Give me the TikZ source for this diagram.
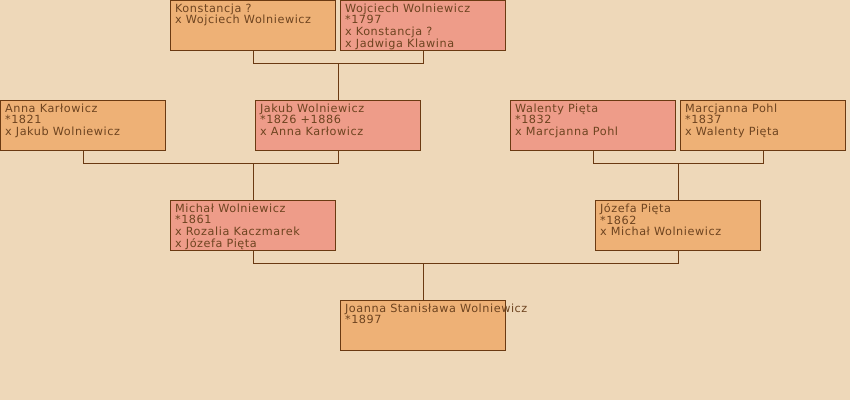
\documentclass[tikz,border=0pt]{standalone}
\usepackage{fontspec}
\setmainfont{DejaVu Sans}
\usetikzlibrary{positioning}
\definecolor{paper}{HTML}{EED8B9}
\definecolor{male}{HTML}{EE9C89}
\definecolor{female}{HTML}{EEB176}
\definecolor{frame}{HTML}{6B3A12}
\definecolor{ink}{HTML}{6E4420}
\newcommand{\cardfont}{\fontsize{8}{8.2}\selectfont\addfontfeature{LetterSpace=5}}

\begin{document}
\begin{tikzpicture}[
  x=0.025cm, y=-0.025cm,
  person/.style={rectangle, draw=frame, line width=0.7pt, anchor=north west,
                 minimum width=4.125cm, minimum height=1.25cm, inner sep=0pt,
                 label={[anchor=north west, align=left, inner sep=0pt, text=ink,
                         font=\cardfont, xshift=0.12cm, yshift=-0.09cm]north west:#1}},
  man/.style={person={#1}, fill=male},
  woman/.style={person={#1}, fill=female},
  link/.style={draw=frame, line width=0.7pt}]
  \useasboundingbox[fill=paper] (0,0) rectangle (850,400);
  % grandparents of Michal
  \node[woman={Konstancja ?\\x Wojciech Wolniewicz}] (kon) at (170,0) {};
  \node[man={Wojciech Wolniewicz\\*1797\\x Konstancja ?\\x Jadwiga Klawina}] (woj) at (340,0) {};
  % parents
  \node[woman={Anna Karłowicz\\*1821\\x Jakub Wolniewicz}] (ann) at (0,100) {};
  \node[man={Jakub Wolniewicz\\*1826 +1886\\x Anna Karłowicz}] (jak) at (255,100) {};
  \node[man={Walenty Pięta\\*1832\\x Marcjanna Pohl}] (wal) at (510,100) {};
  \node[woman={Marcjanna Pohl\\*1837\\x Walenty Pięta}] (mar) at (680,100) {};
  % couple
  \node[man={Michał Wolniewicz\\*1861\\x Rozalia Kaczmarek\\x Józefa Pięta}] (mic) at (170,200) {};
  \node[woman={Józefa Pięta\\*1862\\x Michał Wolniewicz}] (joz) at (595,200) {};
  % child
  \node[woman={Joanna Stanisława Wolniewicz\\*1897}] (joa) at (340,300) {};

  \draw[link] (kon.south) -- ++(0,12) coordinate (f1) -| (woj.south);
  \draw[link] (jak.north) -- (jak.north |- f1);
  \draw[link] (ann.south) -- ++(0,12) coordinate (f2) -| (jak.south);
  \draw[link] (mic.north) -- (mic.north |- f2);
  \draw[link] (wal.south) -- ++(0,12) coordinate (f3) -| (mar.south);
  \draw[link] (joz.north) -- (joz.north |- f3);
  \draw[link] (mic.south) -- ++(0,12) coordinate (f4) -| (joz.south);
  \draw[link] (joa.north) -- (joa.north |- f4);
\end{tikzpicture}
\end{document}
